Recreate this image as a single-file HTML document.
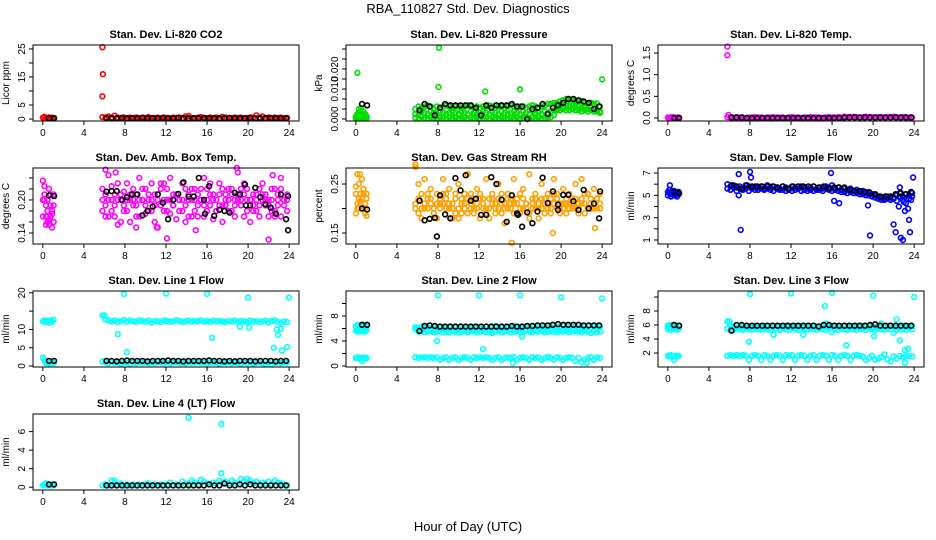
<!DOCTYPE html>
<html><head><meta charset="utf-8"><style>
body{margin:0;background:#fff;}
svg{display:block;font-family:"Liberation Sans",sans-serif;}
</style></head><body>
<svg id="chart" width="936" height="540" viewBox="0 0 936 540">
<text x="468" y="13" text-anchor="middle" font-size="13">RBA_110827  Std. Dev. Diagnostics</text>
<text x="468" y="531" text-anchor="middle" font-size="13">Hour of Day (UTC)</text>
</svg>
<script>
// ---- shared x categories (hour of day) ----
const hoursColorEarly = [0, 0.15, 0.3, 0.45, 0.6, 0.75, 0.9, 1.05];
const hoursColor = hoursColorEarly.slice();
for (let k = 0; k <= 60; k++) hoursColor.push(+(5.8 + 0.3 * k).toFixed(2));
const hoursBlack = [0.6, 1.1];
for (let k = 0; k < 36; k++) hoursBlack.push(+(6.2 + 0.5 * k).toFixed(2));
const xTicks = [0, 4, 8, 12, 16, 20, 24];

// ---- CO2 ----
const co2Color = [0.5,0.8,0.4,0.3,0.6,0.4,0.5,0.3, 0.7,0.5,0.9,0.6,1.2,0.5,0.4,0.6,0.3,0.5, 0.4,0.6,0.3,0.5,0.4,0.7,0.3,0.4,0.5,0.3, 0.6,0.4,0.3,0.5,0.4,0.6,0.3,0.9,1.1,0.4, 0.3,0.5,0.7,0.4,0.3,0.6,0.4,0.5,0.3,0.8, 0.5,0.4,0.3,0.6,0.4,0.5,0.3,0.4,0.6,0.5, 1.3,0.6,0.9,0.4,0.5,0.3,0.6,0.4,0.5,0.3, 0.4];
const co2OutT = [5.8, 5.85, 5.8];
const co2OutV = [8.1, 16, 25.6];
const co2Black = [0.3,0.3, 0.4,0.3,0.3,0.4,0.3,0.3, 0.3,0.4,0.3,0.3,0.3,0.4, 0.3,0.3,0.4,0.3,0.3,0.3, 0.3,0.4,0.3,0.3,0.3,0.3, 0.4,0.3,0.3,0.3,0.4,0.3, 0.3,0.3,0.4,0.3,0.3,0.3];

// ---- Pressure ----
const presHigh = [0.001,0.002,0.004,0.003,0.002,0.003,0.002,0.001, 0.004,0.005,0.0045,0.005,0.0055,0.005,0.004,0.005,0.0045,0.005, 0.0055,0.005,0.0045,0.005,0.005,0.0045,0.005,0.0055,0.005,0.0045, 0.005,0.0045,0.005,0.005,0.0055,0.005,0.0045,0.005,0.005,0.0045, 0.005,0.0055,0.005,0.0045,0.005,0.005,0.0045,0.005,0.0055,0.005, 0.0045,0.005,0.0055,0.006,0.006,0.0065,0.0065,0.007,0.0075,0.008, 0.008,0.0078,0.0075,0.007,0.0072,0.0065,0.006,0.0065,0.006,0.0062, 0.005];
const presMid = [0.0005,0.001,0.002,0.0015,0.001,0.0005,0.001,0.0005, 0.002,0.0025,0.003,0.0025,0.002,0.003,0.0025,0.002,0.003,0.0025, 0.002,0.0025,0.003,0.0025,0.002,0.003,0.0025,0.002,0.003,0.0025, 0.002,0.0025,0.003,0.0025,0.002,0.003,0.0025,0.002,0.003,0.0025, 0.002,0.0025,0.003,0.0025,0.002,0.003,0.0025,0.002,0.003,0.0025, 0.0025,0.002,0.003,0.0025,0.003,0.0035,0.004,0.0045,0.005,0.0055, 0.0055,0.0055,0.005,0.005,0.0045,0.0045,0.004,0.0045,0.004,0.0035, 0.003];
const presLow = [0.0003,0.0004,0.0002,0.0005,0.0003,0.0002,0.0004,0.0003, 0.0005,0.0003,0.0008,0.0004,0.0003,0.0006,0.0004,0.0003,0.0005,0.0004, 0.0003,0.0006,0.0004,0.0005,0.0003,0.0004,0.0006,0.0003,0.0005,0.0004, 0.0006,0.0003,0.0004,0.0005,0.0003,0.0006,0.0004,0.0003,0.0005,0.0004, 0.0003,0.0005,0.0004,0.0006,0.0003,0.0004,0.0005,0.0003,0.0006,0.0004, 0.0005,0.0003,0.0004,0.0006,0.0008,0.0015,0.0035,0.0035,0.004,0.0035, 0.0035,0.004,0.0035,0.0035,0.003,0.0035,0.003,0.0035,0.003,0.003, 0.0025];
const presOutT = [0.15, 0.5, 8.1, 8.05, 12.6, 16, 24];
const presOutV = [0.0185, 0.0044, 0.0285, 0.0128, 0.011, 0.0119, 0.0159];
const presBlack = [0.006,0.0055, 0.0035,0.006,0.005,0.0015,0.0045,0.006, 0.0055,0.0055,0.0055,0.0055,0.0055,0.0045, 0.0015,0.0055,0.0045,0.0055,0.0055,0.0055, 0.006,0.005,0.005,0.0,0.004,0.0045, 0.006,0.002,0.0045,0.0055,0.0065,0.008, 0.008,0.0075,0.007,0.0065,0.004,0.005];

// ---- Li-820 Temp ----
const tempColor = [0.01,0.0,0.01,0.02,0.01,0.0,0.01,0.01, 0.02,0.01,0.01,0.02,0.01,0.01,0.0,0.01,0.01,0.02, 0.01,0.01,0.0,0.01,0.01,0.02,0.01,0.01,0.01,0.0, 0.01,0.02,0.01,0.01,0.0,0.01,0.01,0.02,0.01,0.01, 0.01,0.0,0.01,0.02,0.01,0.01,0.02,0.01,0.03,0.02, 0.02,0.03,0.02,0.01,0.02,0.03,0.02,0.02,0.01,0.02, 0.02,0.01,0.02,0.02,0.03,0.02,0.01,0.02,0.02,0.01, 0.01];
const tempOutT = [5.8, 5.8, 5.9];
const tempOutV = [1.65, 1.45, 0.07];
const tempBlack = [0.0,0.0, 0.01,0.01,0.01,0.0,0.0,0.0, 0.0,0.0,0.0,0.0,0.0,0.0, 0.0,0.0,0.0,0.0,0.0,0.0, 0.0,0.0,0.0,0.0,0.01,0.01, 0.01,0.01,0.01,0.01,0.01,0.01, 0.01,0.01,0.01,0.01,0.01,0.01];

// ---- Amb Box Temp ----
const ambA = [0.235,0.21,0.19,0.16,0.22,0.17,0.18,0.16, 0.22,0.19,0.245,0.2,0.17,0.23,0.21,0.18,0.2,0.16, 0.22,0.19,0.24,0.2,0.175,0.21,0.23,0.19,0.15,0.22, 0.2,0.18,0.24,0.21,0.165,0.2,0.23,0.19,0.21,0.17, 0.22,0.19,0.2,0.24,0.18,0.21,0.165,0.2,0.23,0.19, 0.21,0.18,0.22,0.2,0.25,0.19,0.17,0.22,0.2,0.18, 0.21,0.19,0.23,0.2,0.17,0.22,0.18,0.2,0.24,0.19, 0.21];
const ambB = [0.17,0.2,0.155,0.18,0.165,0.21,0.15,0.19, 0.18,0.21,0.17,0.225,0.19,0.2,0.16,0.215,0.18,0.2, 0.19,0.21,0.17,0.2,0.22,0.18,0.2,0.16,0.21,0.19, 0.23,0.2,0.175,0.19,0.21,0.2,0.18,0.22,0.17,0.2, 0.18,0.21,0.2,0.17,0.22,0.19,0.2,0.18,0.21,0.16, 0.2,0.22,0.18,0.19,0.21,0.2,0.23,0.18,0.2,0.19, 0.2,0.17,0.21,0.19,0.2,0.18,0.22,0.19,0.17,0.2, 0.18];
const ambC = [0.2,0.225,0.17,0.2,0.155,0.19,0.175,0.21, 0.2,0.17,0.2,0.18,0.21,0.155,0.2,0.19,0.23,0.21, 0.2,0.17,0.2,0.22,0.19,0.2,0.18,0.21,0.2,0.23, 0.18,0.22,0.2,0.19,0.21,0.18,0.2,0.16,0.2,0.22, 0.2,0.17,0.22,0.19,0.2,0.23,0.21,0.18,0.19,0.22, 0.19,0.2,0.21,0.17,0.2,0.22,0.21,0.2,0.16,0.21, 0.18,0.22,0.2,0.21,0.19,0.2,0.17,0.21,0.22,0.2, 0.2];
const ambOutT = [6.1, 7.1, 12.1, 14.9, 18.9, 22, 22.4, 9.1, 11.1];
const ambOutV = [0.255, 0.25, 0.13, 0.145, 0.258, 0.128, 0.245, 0.15, 0.15];
const ambBlack = [0.208,0.207, 0.215,0.216,0.216,0.2,0.205,0.21, 0.21,0.172,0.18,0.188,0.21,0.195, 0.165,0.2,0.211,0.232,0.206,0.206, 0.24,0.2,0.225,0.171,0.182,0.18, 0.177,0.213,0.21,0.228,0.19,0.222, 0.205,0.192,0.186,0.175,0.21,0.165];
const ambBlackXT = [23.9, 23.9, 15.8, 19.8];
const ambBlackXV = [0.145, 0.207, 0.175, 0.19];

// ---- Gas Stream RH ----
const rhA = [0.245,0.27,0.22,0.23,0.26,0.24,0.2,0.185, 0.285,0.25,0.2,0.26,0.22,0.24,0.19,0.23,0.21,0.26, 0.2,0.24,0.18,0.22,0.25,0.19,0.23,0.27,0.2,0.22, 0.24,0.18,0.22,0.26,0.2,0.23,0.19,0.25,0.21,0.17, 0.23,0.2,0.26,0.22,0.19,0.24,0.21,0.27,0.2,0.22, 0.18,0.25,0.21,0.23,0.2,0.26,0.22,0.19,0.24,0.21, 0.23,0.2,0.25,0.21,0.26,0.19,0.23,0.2,0.24,0.22, 0.23];
const rhB = [0.19,0.21,0.2,0.215,0.2,0.23,0.19,0.22, 0.21,0.22,0.18,0.2,0.23,0.21,0.2,0.18,0.22,0.21, 0.23,0.2,0.21,0.19,0.2,0.22,0.21,0.19,0.23,0.2, 0.21,0.22,0.2,0.19,0.22,0.21,0.2,0.22,0.19,0.21, 0.2,0.22,0.21,0.19,0.23,0.2,0.21,0.19,0.22,0.2, 0.21,0.2,0.22,0.21,0.19,0.21,0.23,0.2,0.21,0.22, 0.2,0.21,0.22,0.2,0.21,0.23,0.2,0.22,0.21,0.2, 0.21];
const rhC = [0.23,0.2,0.25,0.21,0.22,0.24,0.21,0.23, 0.2,0.19,0.23,0.21,0.2,0.22,0.19,0.21,0.2,0.23, 0.22,0.21,0.2,0.23,0.18,0.21,0.2,0.22,0.21,0.19, 0.2,0.23,0.21,0.2,0.18,0.22,0.21,0.2,0.23,0.2, 0.22,0.21,0.19,0.21,0.2,0.22,0.2,0.18,0.21,0.23, 0.2,0.22,0.19,0.2,0.22,0.23,0.2,0.21,0.2,0.19, 0.21,0.22,0.2,0.19,0.22,0.21,0.23,0.21,0.2,0.22, 0.2];
const rhOutT = [15.2, 23.3, 19.2, 5.8, 0.4];
const rhOutV = [0.13, 0.16, 0.15, 0.29, 0.27];
const rhBlack = [0.2,0.198, 0.216,0.176,0.179,0.181,0.227,0.188, 0.18,0.262,0.237,0.268,0.216,0.22, 0.187,0.187,0.264,0.25,0.218,0.173, 0.227,0.19,0.163,0.192,0.17,0.194, 0.263,0.211,0.235,0.197,0.228,0.228, 0.215,0.197,0.238,0.2,0.21,0.18];
const rhBlackXT = [7.9, 15.8, 19.7, 23.8];
const rhBlackXV = [0.143, 0.187, 0.208, 0.235];

// ---- Sample Flow ----
const sfA = [5.3,5.5,5.1,5.2,5.4,5.0,5.3,5.1, 6.0,5.8,5.9,5.7,5.8,5.6,5.9,5.8,5.7,5.8, 5.7,5.8,5.6,5.9,5.7,5.8,5.7,5.6,5.8,5.7, 5.6,5.8,5.7,5.6,5.8,5.7,5.6,5.7,5.8,5.6, 5.7,5.6,5.8,5.7,5.9,5.6,5.7,5.5,5.6,5.5, 5.6,5.4,5.5,5.3,5.4,5.2,5.3,5.1,5.0,4.9, 4.8,4.7,4.9,4.8,4.7,5.0,5.2,4.9,5.1,5.0, 5.2];
const sfB = [5.0,5.2,4.9,5.4,5.0,5.2,4.9,5.3, 5.6,5.5,5.7,5.4,5.6,5.5,5.6,5.4,5.6,5.5, 5.5,5.6,5.5,5.6,5.5,5.4,5.6,5.5,5.5,5.4, 5.5,5.4,5.5,5.6,5.4,5.5,5.4,5.5,5.4,5.5, 5.5,5.4,5.6,5.5,5.4,5.5,5.4,5.3,5.3,5.2, 5.3,5.2,5.2,5.1,5.1,5.0,5.0,4.9,4.8,4.7, 4.6,4.6,4.7,4.6,4.8,4.5,4.9,4.6,4.3,4.7, 4.9];
const sfOutT = [0.2,6.9,6.9,7.1,8.0,8.1,15.9,16.2,16.7,19.5,19.7,22.0,22.2,22.5,22.7,22.9,23.1,23.4,23.5,23.6,23.7,23.9,22.6,23.0];
const sfOutV = [5.9,6.9,5.0,1.9,7.1,6.6,7.0,4.5,4.3,4.1,1.4,2.4,1.7,4.0,1.2,1.0,3.6,3.8,2.8,1.7,4.6,6.6,5.7,4.4];
const sfBlack = [5.3,5.2, 5.9,5.8,5.6,5.9,5.8,5.8, 5.8,5.8,5.8,5.7,5.8,5.6, 5.8,5.8,5.8,5.8,5.8,5.7, 5.8,5.6,5.7,5.7,5.7,5.5, 5.4,5.4,5.3,5.2,5.1,4.9, 4.9,4.9,5.1,5.2,5.1,5.3];

// ---- Line 1 Flow ----
const l1A = [12.2,12.5,12.0,12.3,11.8,12.4,12.1,12.6, 13.8,12.8,12.5,12.2,12.4,12.0,12.3,12.6,12.1,12.4, 12.2,12.0,12.5,12.3,12.1,12.4,11.9,12.3,12.2,12.0, 12.4,12.3,12.1,12.2,12.5,12.3,12.0,12.2,12.4,12.1, 12.3,12.2,12.5,12.1,12.3,12.0,12.4,12.2,12.3,12.1, 12.0,12.3,12.2,12.4,12.1,12.3,12.2,12.0,12.4,12.1, 12.3,12.0,12.2,12.4,11.9,12.3,12.5,12.0,11.8,12.2, 12.0];
const l1B = [2.3,1.5,0.8,1.0,0.7,0.9,1.2,0.8, 1.2,1.0,0.8,1.1,0.9,1.0,0.6,1.0,0.9,0.5, 1.0,0.8,1.1,0.9,1.0,0.8,1.0,0.9,1.1,1.0, 0.9,1.0,0.8,1.0,1.1,0.9,1.0,0.8,1.0,0.9, 1.0,1.1,0.9,1.0,0.8,1.0,0.9,1.0,0.7,1.0, 0.9,1.0,0.8,1.0,0.9,0.6,1.0,0.8,1.0,0.7, 0.9,1.0,0.8,0.6,1.0,0.5,0.9,1.0,0.8,1.0, 0.9];
const l1OutT = [7.9,12,16,20,24,7.3,8.2,16.5,22.5,23.3,23.8,22.8,23.2,22.9,6,20.1,19.2];
const l1OutV = [19.7,19.8,19.7,18.7,18.7,8.7,3.8,7.7,5.0,4.2,5.2,10.0,10.2,8.5,13.8,10.5,10.8];
const l1Black = [1.4,1.4, 1.4,1.4,1.3,1.4,1.5,1.4, 1.4,1.4,1.3,1.4,1.4,1.4, 1.5,1.4,1.4,1.3,1.4,1.4, 1.4,1.4,1.5,1.4,1.4,1.3, 1.4,1.3,1.4,1.4,1.4,1.3, 1.4,1.4,1.4,1.3,1.4,1.4];

// ---- Line 2 Flow ----
const l2A = [6.3,6.6,6.0,6.4,6.2,6.5,6.1,6.3, 6.2,6.0,6.3,6.1,6.2,6.0,6.3,6.1,6.2,6.0, 6.1,6.3,6.0,6.2,6.1,6.3,6.0,6.2,6.1,6.3, 6.0,6.2,6.1,6.3,6.0,6.2,6.4,6.1,6.2,6.0, 6.2,6.1,6.3,6.0,6.2,6.1,6.3,6.2,6.4,6.2, 6.3,6.1,6.4,6.2,6.3,6.1,6.3,6.2,6.4,6.1, 6.3,6.2,6.4,6.1,6.3,6.2,6.4,6.1,6.3,6.2, 6.3];
const l2B = [5.6,5.8,5.5,5.7,5.6,5.8,5.5,5.7, 5.9,5.5,5.6,5.4,5.5,5.6,5.4,5.5,5.6,5.4, 5.5,5.4,5.6,5.5,5.4,5.5,5.6,5.4,5.5,5.6, 5.4,5.5,5.6,5.4,5.5,5.3,5.5,5.6,5.4,5.5, 5.6,5.4,5.5,5.6,5.4,5.5,5.6,5.5,5.4,5.6, 5.5,5.6,5.4,5.5,5.6,5.5,5.4,5.6,5.5,5.6, 5.4,5.5,5.6,5.5,5.4,5.6,5.5,5.3,5.6,5.4, 5.5];
const l2C = [1.3,1.4,1.2,1.3,0.8,1.4,1.2,1.3, 1.4,1.3,1.4,1.4,1.3,1.4,1.3,1.4,1.0,1.3, 1.4,1.0,1.3,1.4,1.0,1.3,1.4,1.3,1.0,1.4, 1.3,1.4,1.3,1.4,1.3,1.0,1.3,1.4,1.0,1.3, 1.4,1.3,1.4,1.0,1.3,1.4,1.3,1.0,1.4,1.3, 1.4,1.0,1.3,1.4,1.3,1.0,1.4,1.3,1.0,1.3, 1.4,1.3,0.8,1.3,0.6,1.0,1.3,1.4,1.0,1.4, 1.3];
const l2OutT = [8,12,16,20,24,7.9,12.4,16.2,15.3,22.5];
const l2OutV = [11.3,11.3,11.3,11.0,10.8,4.0,2.7,4.7,0.5,0.5];
const l2Black = [6.6,6.6, 5.6,6.4,6.5,6.4,6.3,6.3, 6.3,6.3,6.3,6.3,6.3,6.3, 6.3,6.3,6.3,6.3,6.3,6.3, 6.4,6.3,6.3,6.4,6.4,6.5, 6.5,6.5,6.6,6.7,6.6,6.6, 6.6,6.6,6.5,6.5,6.5,6.5];

// ---- Line 3 Flow ----
const l3A = [5.9,6.0,5.7,5.9,5.8,6.0,5.7,5.9, 6.5,5.9,5.8,5.9,5.7,5.8,5.9,5.7,5.8,5.9, 5.8,5.7,5.9,5.8,5.7,5.9,5.8,5.7,5.8,5.9, 5.7,5.8,5.9,5.7,5.8,5.9,5.8,5.7,5.9,5.8, 5.7,5.9,6.2,5.8,5.7,5.9,5.8,5.7,5.9,5.8, 5.7,5.8,5.9,5.8,5.7,5.8,5.9,5.8,5.7,5.9, 6.2,5.8,5.7,5.9,5.8,5.7,5.8,5.9,5.7,5.8, 5.9];
const l3B = [5.4,5.6,5.3,5.5,5.4,5.6,5.3,5.5, 5.5,5.4,5.3,5.5,5.4,5.3,5.5,5.4,5.3,5.5, 5.4,5.3,5.5,5.4,5.3,4.6,5.4,5.3,5.5,5.4, 5.3,5.5,5.4,5.3,5.5,5.4,5.3,5.5,5.4,5.3, 5.5,5.4,5.3,5.5,5.0,5.4,5.3,5.5,5.4,5.3, 5.5,5.4,5.3,5.5,5.4,5.3,5.5,5.4,5.3,5.5, 5.4,5.3,5.5,5.4,4.9,5.3,5.5,5.4,5.3,5.5, 5.4];
const l3C = [1.6,1.5,1.7,1.5,1.0,1.6,1.5,1.6, 1.6,1.7,1.6,1.7,1.6,1.7,1.6,1.0,1.6,1.7, 1.6,1.0,1.7,1.6,1.0,1.6,1.7,1.6,1.0,1.7, 1.6,1.7,1.0,1.6,1.7,1.6,1.0,1.6,1.7,1.0, 1.6,1.7,1.6,1.0,1.7,1.6,1.0,1.6,1.7,1.6, 1.0,1.6,1.7,1.6,1.5,1.0,1.3,1.6,1.0,1.2, 1.4,1.8,1.1,0.8,1.5,1.2,1.6,1.4,1.5,1.6, 1.5];
const l3OutT = [8,12,16,20,24,15.3,7.9,13.2,17.4,20.1,22.6,23.4,23.1,6,22.3,23.1];
const l3OutV = [10.4,10.5,10.6,10.2,10.0,8.7,3.6,4.6,3.1,4.4,3.8,2.6,2.4,6.5,6.8,0.6];
const l3Black = [6.0,5.9, 5.2,6.0,6.0,5.9,5.9,5.9, 5.9,5.9,5.9,5.9,5.9,5.9, 5.9,5.9,5.9,5.9,5.9,5.8, 6.0,6.0,5.9,5.9,5.9,5.9, 5.9,5.9,5.9,6.0,6.1,5.9, 5.9,5.9,5.9,5.9,5.9,5.9];

// ---- Line 4 (LT) Flow ----
const l4A = [0.2,0.3,0.4,0.2,0.3,0.2,0.3,0.2, 0.2,0.3,0.2,0.7,0.3,0.2,0.4,0.2,0.3,0.2, 0.3,0.2,0.3,0.2,0.3,0.4,0.2,0.3,0.2,0.3, 0.2,0.3,0.5,0.2,0.3,0.2,0.6,0.3,0.4,0.7, 0.5,0.3,0.8,0.6,0.4,0.3,0.5,0.4,0.7,0.5, 0.6,0.4,0.7,0.5,0.3,0.9,0.6,0.5,0.7,0.4, 0.6,0.3,0.5,0.4,0.6,0.3,0.7,0.5,0.4,0.3, 0.2];
const l4OutT = [14.2, 17.4, 17.4, 7.0, 19.9];
const l4OutV = [7.5, 6.8, 1.5, 0.7, 0.9];
const l4Black = [0.3,0.3, 0.2,0.2,0.2,0.2,0.2,0.2, 0.2,0.2,0.2,0.2,0.2,0.2, 0.2,0.2,0.2,0.2,0.2,0.2, 0.2,0.2,0.3,0.2,0.2,0.4, 0.2,0.2,0.3,0.2,0.3,0.2, 0.2,0.2,0.2,0.2,0.2,0.2];

const panels = [
 {name:'co2', title:'Stan. Dev. Li-820 CO2', ylab:'Licor ppm', col:0, row:0, lo:-0.7, hi:26.4,
  ticks:[0,5,10,15,20,25], labels:{0:'0',5:'5',15:'15',25:'25'},
  series:[[hoursColor,co2Color,'#ff0000'],[co2OutT,co2OutV,'#ff0000'],[hoursBlack,co2Black,'#000']]},
 {name:'pressure', title:'Stan. Dev. Li-820 Pressure', ylab:'kPa', col:1, row:0, lo:-0.0008, hi:0.0296,
  ticks:[0,0.004,0.008,0.012,0.016,0.02,0.024,0.028], labels:{0:'0.000',0.012:'0.010',0.02:'0.020'},
  series:[[hoursColor,presLow,'#00dd00'],[hoursColor,presMid,'#00dd00'],[hoursColor,presHigh,'#00dd00'],[presOutT,presOutV,'#00dd00'],[hoursBlack,presBlack,'#000']]},
 {name:'temp', title:'Stan. Dev. Li-820 Temp.', ylab:'degrees C', col:2, row:0, lo:-0.07, hi:1.686,
  ticks:[0,0.5,1,1.5], labels:{0:'0.0',0.5:'0.5',1:'1.0',1.5:'1.5'},
  series:[[hoursColor,tempColor,'#ff00ff'],[tempOutT,tempOutV,'#ff00ff'],[hoursBlack,tempBlack,'#000']]},
 {name:'amb-box-temp', title:'Stan. Dev. Amb. Box Temp.', ylab:'degrees C', col:0, row:1, lo:0.12, hi:0.258,
  ticks:[0.14,0.16,0.18,0.2,0.22,0.24], labels:{0.14:'0.14',0.2:'0.20'},
  series:[[hoursColor,ambA,'#ff00ff'],[hoursColor,ambB,'#ff00ff'],[hoursColor,ambC,'#ff00ff'],[ambOutT,ambOutV,'#ff00ff'],[hoursBlack,ambBlack,'#000'],[ambBlackXT,ambBlackXV,'#000']]},
 {name:'gas-stream-rh', title:'Stan. Dev. Gas Stream RH', ylab:'percent', col:1, row:1, lo:0.1276, hi:0.2827,
  ticks:[0.15,0.2,0.25], labels:{0.15:'0.15',0.25:'0.25'},
  series:[[hoursColor,rhA,'#ffa000'],[hoursColor,rhB,'#ffa000'],[hoursColor,rhC,'#ffa000'],[rhOutT,rhOutV,'#ffa000'],[hoursBlack,rhBlack,'#000'],[rhBlackXT,rhBlackXV,'#000']]},
 {name:'sample-flow', title:'Stan. Dev. Sample Flow', ylab:'ml/min', col:2, row:1, lo:0.64, hi:7.45,
  ticks:[1,2,3,4,5,6,7], labels:{1:'1',3:'3',5:'5',7:'7'},
  series:[[hoursColor,sfB,'#0000ff'],[hoursColor,sfA,'#0000ff'],[sfOutT,sfOutV,'#0000ff'],[hoursBlack,sfBlack,'#000']]},
 {name:'line1-flow', title:'Stan. Dev. Line 1 Flow', ylab:'ml/min', col:0, row:2, lo:-0.27, hi:20.5,
  ticks:[0,5,10,15,20], labels:{0:'0',5:'5',10:'10',20:'20'},
  series:[[hoursColor,l1A,'#00ffff'],[hoursColor,l1B,'#00ffff'],[l1OutT,l1OutV,'#00ffff'],[hoursBlack,l1Black,'#000']]},
 {name:'line2-flow', title:'Stan. Dev. Line 2 Flow', ylab:'ml/min', col:1, row:2, lo:-0.16, hi:12.0,
  ticks:[0,2,4,6,8,10], labels:{0:'0',4:'4',8:'8'},
  series:[[hoursColor,l2A,'#00ffff'],[hoursColor,l2B,'#00ffff'],[hoursColor,l2C,'#00ffff'],[l2OutT,l2OutV,'#00ffff'],[hoursBlack,l2Black,'#000']]},
 {name:'line3-flow', title:'Stan. Dev. Line 3 Flow', ylab:'ml/min', col:2, row:2, lo:0.0, hi:10.86,
  ticks:[2,4,6,8,10], labels:{2:'2',4:'4',6:'6',8:'8'},
  series:[[hoursColor,l3A,'#00ffff'],[hoursColor,l3B,'#00ffff'],[hoursColor,l3C,'#00ffff'],[l3OutT,l3OutV,'#00ffff'],[hoursBlack,l3Black,'#000']]},
 {name:'line4-flow', title:'Stan. Dev. Line 4 (LT) Flow', ylab:'ml/min', col:0, row:3, lo:-0.3, hi:7.9,
  ticks:[0,2,4,6], labels:{0:'0',2:'2',4:'4',6:'6'},
  series:[[hoursColor,l4A,'#00ffff'],[l4OutT,l4OutV,'#00ffff'],[hoursBlack,l4Black,'#000']]}
];

const NS = 'http://www.w3.org/2000/svg';
const svg = document.getElementById('chart');
const colLeft = [33, 346, 658], boxW = 266, rowTop = [45, 168, 291, 414], boxH = 76;
function mk(tag, attrs, parent) {
  const e = document.createElementNS(NS, tag);
  for (const k in attrs) e.setAttribute(k, attrs[k]);
  parent.appendChild(e);
  return e;
}
panels.forEach(p => {
  const L = colLeft[p.col], T = rowTop[p.row], R = L + boxW, B = T + boxH;
  const xs = t => L + (t + 0.96) / 25.92 * boxW;
  const ys = v => B - (v - p.lo) / (p.hi - p.lo) * boxH;
  const g = mk('g', {}, svg);
  
  
  const title = mk('text', {x: (L + R) / 2, y: T - 7, 'text-anchor': 'middle', 'font-size': 11, 'font-weight': 'bold'}, g);
  title.textContent = p.title;
  
  
  const yl = mk('text', {x: 0, y: 0, 'text-anchor': 'middle', 'font-size': 10, transform: `translate(${L - 24},${(T + B) / 2}) rotate(-90)`}, g);
  yl.textContent = p.ylab;
  
  
  const pts = mk('g', {fill: 'none', 'stroke-width': 1.6}, g);
  
  
  p.series.forEach(s => {
    const [ts, vs, color] = s;
    for (let i = 0; i < vs.length && i < ts.length; i++) {
      const c = mk('circle', {cx: xs(ts[i]).toFixed(1), cy: ys(vs[i]).toFixed(1), r: 2.4, stroke: color}, pts);
      
      
    }
  });
  const box = mk('rect', {x: L, y: T, width: boxW, height: boxH, fill: 'none', stroke: '#000', 'stroke-width': 1}, g);
  
  
  const ax = mk('g', {stroke: '#000', 'stroke-width': 1}, g);
  
  
  mk('line', {x1: xs(0), x2: xs(24), y1: B, y2: B}, ax);
  xTicks.forEach(t => {
    mk('line', {x1: xs(t), x2: xs(t), y1: B, y2: B + 4}, ax);
    const tl = mk('text', {x: xs(t), y: B + 15, 'text-anchor': 'middle', 'font-size': 10, stroke: 'none'}, ax);
    tl.textContent = t;
    
    
  });
  mk('line', {x1: L, x2: L, y1: ys(p.ticks[0]), y2: ys(p.ticks[p.ticks.length - 1])}, ax);
  p.ticks.forEach(v => {
    const y = ys(v);
    mk('line', {x1: L - 4, x2: L, y1: y, y2: y}, ax);
    if (p.labels[v] !== undefined) {
      const tl = mk('text', {x: 0, y: 0, 'text-anchor': 'middle', 'font-size': 10, stroke: 'none', transform: `translate(${L - 8},${y}) rotate(-90)`}, ax);
      tl.textContent = p.labels[v];
      
      
    }
  });
});
</script>
</body></html>
